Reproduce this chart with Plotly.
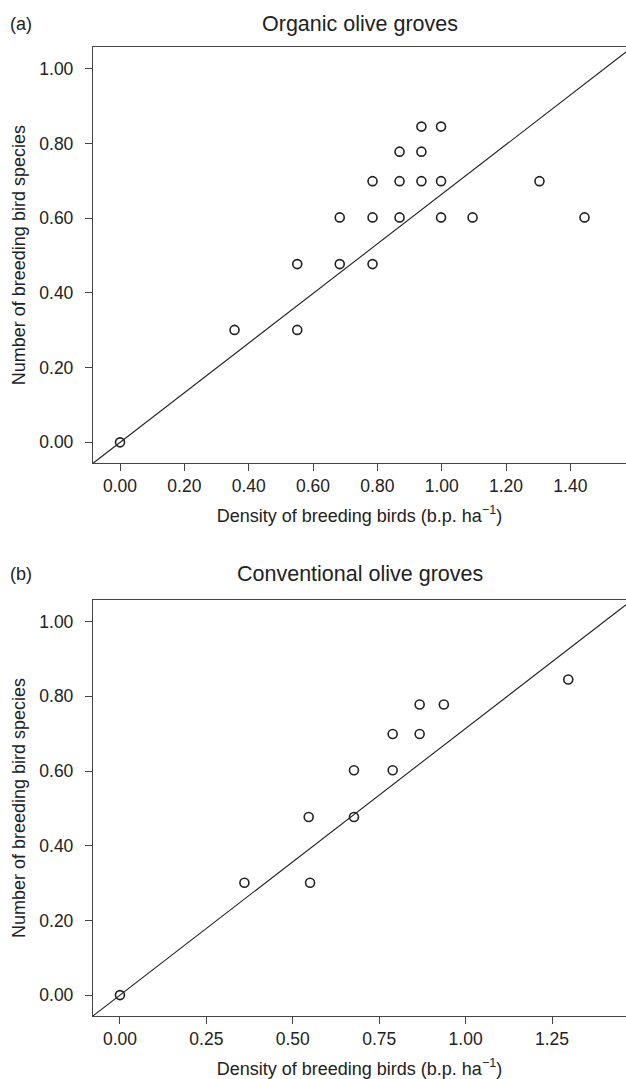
import plotly.graph_objects as go

# ---- data ----
organic_x = [0.0, 0.356, 0.551, 0.551, 0.683, 0.785, 0.683, 0.785, 0.869, 0.998,
             1.096, 1.444, 0.785, 0.869, 0.937, 0.998, 1.304, 0.869, 0.937, 0.937, 0.998]
organic_y = [0.0, 0.301, 0.301, 0.477, 0.477, 0.477, 0.602, 0.602, 0.602, 0.602,
             0.602, 0.602, 0.699, 0.699, 0.699, 0.699, 0.699, 0.778, 0.778, 0.845, 0.845]
conventional_x = [0.0, 0.360, 0.550, 0.546, 0.677, 0.677, 0.789, 0.789, 0.867, 0.867, 0.937, 1.297]
conventional_y = [0.0, 0.301, 0.301, 0.477, 0.477, 0.602, 0.602, 0.699, 0.699, 0.778, 0.778, 0.845]

organic_fit = {"intercept": 0.0, "slope": 0.664}
conventional_fit = {"intercept": 0.0, "slope": 0.714}

organic_xticks = [0.0, 0.2, 0.4, 0.6, 0.8, 1.0, 1.2, 1.4]
conventional_xticks = [0.0, 0.25, 0.5, 0.75, 1.0, 1.25]
y_ticks = [0.0, 0.2, 0.4, 0.6, 0.8, 1.0]

panel_titles = ["Organic olive groves", "Conventional olive groves"]
panel_letters = ["(a)", "(b)"]
x_title = "Density of breeding birds (b.p. ha<sup>\u22121</sup>)"
y_title = "Number of breeding bird species"

# ---- layout constants ----
top_xrange = [-0.084, 1.573]
bot_xrange = [-0.078, 1.464]
yrange = [-0.056, 1.058]

INK = "#222222"
AXIS = "#444444"
FONT = "Liberation Sans, Arial, Helvetica, sans-serif"

fig = go.Figure()


def fit_line(fit, xr):
    xs = list(xr)
    ys = [fit["intercept"] + fit["slope"] * v for v in xs]
    return xs, ys


for xs, ys, fit, xr, xa, ya in [
    (organic_x, organic_y, organic_fit, top_xrange, "x", "y"),
    (conventional_x, conventional_y, conventional_fit, bot_xrange, "x2", "y2"),
]:
    lx, ly = fit_line(fit, xr)
    fig.add_trace(go.Scatter(x=lx, y=ly, mode="lines", xaxis=xa, yaxis=ya,
                             line=dict(color=INK, width=1.1), showlegend=False,
                             hoverinfo="skip", cliponaxis=True))
    fig.add_trace(go.Scatter(x=xs, y=ys, mode="markers", xaxis=xa, yaxis=ya,
                             marker=dict(symbol="circle-open", size=9, color=INK,
                                         line=dict(width=1.6, color=INK)),
                             showlegend=False, cliponaxis=False))

axis_common = dict(showline=True, linecolor=AXIS, linewidth=1.3, ticks="outside",
                   ticklen=7, tickwidth=1.2, tickcolor=AXIS, showgrid=False,
                   zeroline=False, tickformat=".2f",
                   tickfont=dict(size=17.5, color=INK, family=FONT))

fig.update_layout(
    width=626, height=1079,
    margin=dict(l=93, r=0, t=47, b=63),
    paper_bgcolor="white", plot_bgcolor="white",
    font=dict(family=FONT, color=INK),
    xaxis=dict(**axis_common, domain=[0, 1], anchor="y", range=top_xrange,
               tickvals=organic_xticks, mirror=True,
               title=dict(text=x_title, font=dict(size=18, color=INK), standoff=13)),
    yaxis=dict(**axis_common, domain=[0.5704, 1], anchor="x", range=yrange,
               tickvals=y_ticks, ticklabelstandoff=8,
               title=dict(text=y_title, font=dict(size=18, color=INK), standoff=8)),
    xaxis2=dict(**axis_common, domain=[0, 1], anchor="y2", range=bot_xrange,
                tickvals=conventional_xticks, mirror=True,
                title=dict(text=x_title, font=dict(size=18, color=INK), standoff=16)),
    yaxis2=dict(**axis_common, domain=[0, 0.4293], anchor="x2", range=yrange,
                tickvals=y_ticks, ticklabelstandoff=8,
                title=dict(text=y_title, font=dict(size=18, color=INK), standoff=8)),
)

# panel titles and letters
title_y = [1.024, 0.456]
for i in range(2):
    fig.add_annotation(text=panel_titles[i], xref="paper", yref="paper",
                       x=0.5, y=title_y[i], xanchor="center", yanchor="middle",
                       showarrow=False, font=dict(size=21.5, color=INK, family=FONT))
    fig.add_annotation(text=panel_letters[i], xref="paper", yref="paper",
                       x=-0.160, y=title_y[i], xanchor="left", yanchor="middle",
                       showarrow=False, font=dict(size=18, color=INK, family=FONT))

# remove the page's default 8px body margin so the 626x1079 figure fills the window
fig.write_html("out.html", config={"displayModeBar": False},
               post_script="document.body.style.margin='0';")
